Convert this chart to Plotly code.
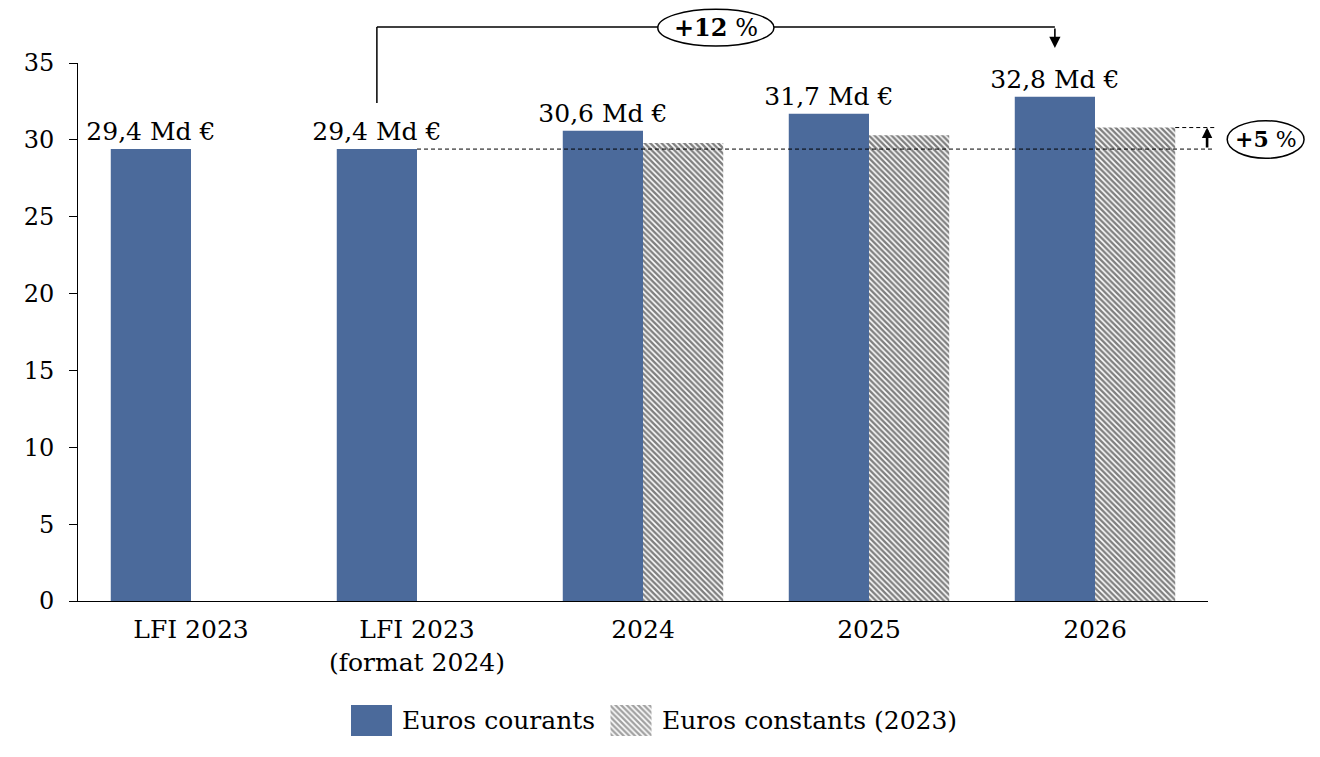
import plotly.graph_objects as go

# ---- data ----
categories = ["LFI 2023", "LFI 2023<br>(format 2024)", "2024", "2025", "2026"]
euros_courants = [29.4, 29.4, 30.6, 31.7, 32.8]
euros_constants = [None, None, 29.8, 30.3, 30.8]
series_names = ["Euros courants", "Euros constants (2023)"]
growth_courants = "+12 %"
growth_constants = "+5 %"

# ---- style ----
BLUE = "#4B6A9B"
FONT = "DejaVu Serif"
Y_MAX = 35
BARGAP = 0.29
BAR_W = (1 - BARGAP) / 2          # width of one bar in category units
N = len(categories)
PLOT_H_PX = 538                   # height of y-axis domain in pixels
PX_PER_UNIT = PLOT_H_PX / Y_MAX
MAIN_DOMAIN = [156 / 694, 1]
LEG_DOMAIN = [21 / 694, 52 / 694]
HATCH = dict(shape="\\", fgcolor="black", bgcolor="white", size=4, solidity=0.6)


def xd(pos):
    """category position -> x domain fraction"""
    return (pos + 0.5) / N


def yd(v):
    """value -> y domain fraction"""
    return v / Y_MAX


def fmt(v):
    return f"{v:.1f}".replace(".", ",") + " Md €"


fig = go.Figure()

fig.add_trace(go.Bar(
    x=categories, y=euros_courants, name=series_names[0],
    marker=dict(color=BLUE, line=dict(width=0)),
    text=[fmt(v) for v in euros_courants], textposition="outside",
    constraintext="none",
    textfont=dict(family=FONT, size=25, color="black"),
    cliponaxis=False, showlegend=False,
))
fig.add_trace(go.Bar(
    x=categories, y=euros_constants, name=series_names[1],
    marker=dict(color="white", line=dict(width=0), pattern=HATCH),
    showlegend=False,
))

# ---- custom legend drawn as bars on a hidden axis (axis units = page px) ----
leg_x = [371.5, 631]
leg_w = 41
fig.add_trace(go.Bar(
    x=leg_x, y=[1, 1], width=[leg_w, leg_w], offset=[-leg_w / 2, -leg_w / 2],
    xaxis="x2", yaxis="y2", showlegend=False, hoverinfo="skip",
    marker=dict(color=[BLUE, "white"], line=dict(width=0),
                pattern=dict(shape=["", "\\"], fgcolor="black",
                             size=HATCH["size"], solidity=HATCH["solidity"])),
))
for xpos, name in zip([400, 660], series_names):
    fig.add_annotation(x=xpos, y=0.5, xref="x2", yref="y2", text=name,
                       showarrow=False, xanchor="left", yanchor="middle",
                       font=dict(family=FONT, size=25, color="black"))

shapes = []
blue_c1 = 1 - BAR_W / 2
blue_c4 = 4 - BAR_W / 2
END_X = 4.53
y_top = 37.34
y_bottom_left = 32.4

# dashed reference lines
shapes.append(dict(type="line", xref="x domain", yref="y domain",
                   x0=xd(1), x1=xd(END_X), y0=yd(euros_courants[1]), y1=yd(euros_courants[1]),
                   line=dict(color="black", width=1, dash="4px,3px")))
shapes.append(dict(type="line", xref="x domain", yref="y domain",
                   x0=xd(4 + BAR_W), x1=xd(END_X), y0=yd(euros_constants[4]), y1=yd(euros_constants[4]),
                   line=dict(color="black", width=1, dash="4px,3px")))
# bracket
shapes.append(dict(type="line", xref="x domain", yref="y domain",
                   x0=xd(blue_c1), x1=xd(blue_c1), y0=yd(y_bottom_left), y1=yd(y_top),
                   line=dict(color="black", width=1.5)))
shapes.append(dict(type="line", xref="x domain", yref="y domain",
                   x0=xd(blue_c1), x1=xd(blue_c4), y0=yd(y_top), y1=yd(y_top),
                   line=dict(color="black", width=1.5)))
# ellipses
mid = (blue_c1 + blue_c4) / 2
shapes.append(dict(type="circle", xref="x domain", yref="y domain",
                   x0=xd(mid - 0.257), x1=xd(mid + 0.257), y0=yd(36.1), y1=yd(38.5),
                   fillcolor="white", line=dict(color="black", width=1.5)))
shapes.append(dict(type="circle", xref="x domain", yref="y domain",
                   x0=xd(4.585), x1=xd(4.925), y0=yd(28.8), y1=yd(31.25),
                   fillcolor="white", line=dict(color="black", width=1.5)))
fig.update_layout(shapes=shapes)

# arrows
tip_down = 35.98
fig.add_annotation(xref="x domain", yref="y domain", x=xd(blue_c4), y=yd(tip_down),
                   ax=0, ay=-(y_top - tip_down) * PX_PER_UNIT, text="",
                   showarrow=True, arrowhead=2, arrowsize=1.4, arrowwidth=1.6,
                   arrowcolor="black")
fig.add_annotation(xref="x domain", yref="y domain", x=xd(4.496), y=yd(euros_constants[4]),
                   ax=0, ay=(euros_constants[4] - euros_courants[1]) * PX_PER_UNIT, text="",
                   showarrow=True, arrowhead=2, arrowsize=0.8, arrowwidth=2.6,
                   arrowcolor="black")
# ellipse texts
g12 = growth_courants.split(" ")
fig.add_annotation(xref="x domain", yref="y domain", x=xd(mid), y=yd(37.3),
                   text=f"<b>{g12[0]}</b> {g12[1]}", showarrow=False,
                   xanchor="center", yanchor="middle",
                   font=dict(family=FONT, size=24, color="black"))
g5 = growth_constants.split(" ")
fig.add_annotation(xref="x domain", yref="y domain", x=xd(4.755), y=yd(30.03),
                   text=f"<b>{g5[0]}</b> {g5[1]}", showarrow=False,
                   xanchor="center", yanchor="middle",
                   font=dict(family=FONT, size=22, color="black"))

fig.update_layout(
    width=1320, height=757,
    margin=dict(l=70, r=120, t=55, b=8, autoexpand=False),
    paper_bgcolor="white", plot_bgcolor="white",
    barmode="group", bargap=BARGAP, bargroupgap=0,
    font=dict(family=FONT, color="black"),
    xaxis=dict(domain=[0, 1], showline=True, linecolor="black", linewidth=1,
               ticks="", showgrid=False, zeroline=False, automargin=False,
               tickfont=dict(family=FONT, size=25, color="black"),
               ticklabelstandoff=6, anchor="y"),
    yaxis=dict(domain=MAIN_DOMAIN, range=[0, Y_MAX], dtick=5, showline=True,
               linecolor="black", linewidth=1, ticks="outside", ticklen=8,
               tickcolor="black", showgrid=False, zeroline=False, automargin=False,
               tickfont=dict(family=FONT, size=24, color="black"),
               ticklabelstandoff=10, anchor="x"),
    xaxis2=dict(domain=[0, 1], range=[78, 1208], visible=False, anchor="y2"),
    yaxis2=dict(domain=LEG_DOMAIN, range=[0, 1], visible=False, anchor="x2"),
    showlegend=False,
)

fig.write_html("out.html")
